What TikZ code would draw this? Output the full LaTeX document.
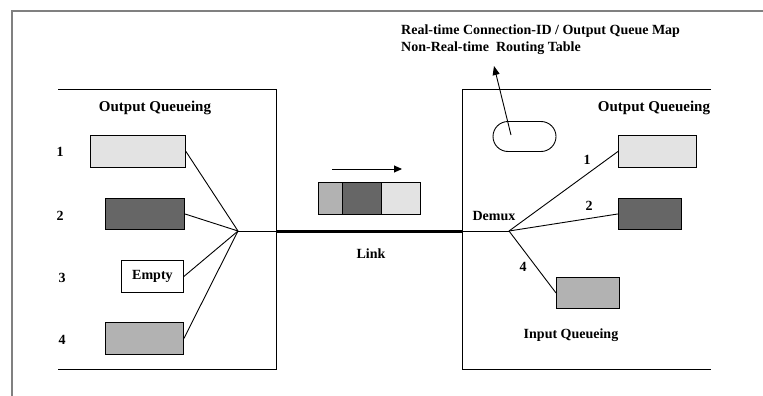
\documentclass[tikz,border=0pt]{standalone}
\usepackage{fontspec}
\setmainfont{Liberation Serif}
\usetikzlibrary{arrows.meta}
\definecolor{qlight}{HTML}{E3E3E3}
\definecolor{qdark}{HTML}{666666}
\definecolor{qmid}{HTML}{B2B2B2}
\definecolor{framegray}{HTML}{808080}
\tikzset{
  queue/.style={draw=black, line width=0.9pt, inner sep=0pt, anchor=north west},
  lbl/.style={font=\bfseries\fontsize{14}{16}\selectfont, inner sep=0pt},
  head/.style={font=\bfseries\fontsize{15}{17}\selectfont, inner sep=0pt},
  wire/.style={line width=0.9pt},
  pcell/.style={draw=black, line width=0.9pt, inner sep=0pt, minimum height=32pt, anchor=north west},
}
\begin{document}
\begin{tikzpicture}[x=1pt,y=-1pt]
\useasboundingbox (0,0) rectangle (763,396);
% outer frame (top and left edges)
\draw[framegray, line width=1.5pt] (12,396) -- (12,11) -- (763,11);

% sender enclosure (open on the left)
\draw[wire] (58,89) -- (276,89) -- (276,369) -- (58,369);
\node[head] (lhead) at (155,108) {Output Queueing};

\node[queue, fill=qlight, minimum width=95pt, minimum height=32pt] (lq1) at (90,135) {};
\node[queue, fill=qdark, minimum width=79pt, minimum height=31pt] (lq2) at (105,198) {};
\node[queue, fill=white, minimum width=62pt, minimum height=32pt] (lq3) at (121,260) {};
\node[lbl] at (lq3.center) {Empty};
\node[queue, fill=qmid, minimum width=78pt, minimum height=32pt] (lq4) at (105,322) {};

\node[lbl] (n1) at (60,152) {1};
\node[lbl] (n2) at (60,216) {2};
\node[lbl] (n3) at (62,278) {3};
\node[lbl] (n4) at (62,340) {4};

\coordinate (mux) at (238,231);
\coordinate (lout) at (276,231);
\draw[wire] (lq1.east) -- (mux);
\draw[wire] (lq2.east) -- (mux);
\draw[wire] (lq3.east) -- (mux);
\draw[wire] (lq4.east) -- (mux);
\draw[wire] (mux) -- (lout);

% link
\coordinate (rin) at (462,231);
\draw[line width=3pt] (lout) -- (rin);
\node[lbl] (link) at (371,254) {Link};

% packet in flight
\node[pcell, fill=qmid, minimum width=24pt] (p1) at (318,182) {};
\node[pcell, fill=qdark, minimum width=39pt] (p2) at (342,182) {};
\node[pcell, fill=qlight, minimum width=39pt] (p3) at (381,182) {};
\coordinate (dirA) at (332,169);
\coordinate (dirB) at (402,169);
\draw[wire, -{Triangle[length=8pt,width=7pt]}] (dirA) -- (dirB);

% receiver enclosure (open on the right)
\draw[wire] (711,89) -- (462,89) -- (462,369) -- (711,369);
\node[head] (rhead) at (654,108) {Output Queueing};

\node[draw=black, line width=0.9pt, rounded corners=15pt, minimum width=63pt, minimum height=30pt, inner sep=0pt] (tbl) at (524.5,136.5) {};
\node[lbl, anchor=west] (t1) at (401,31) {Real-time Connection-ID / Output Queue Map};
\node[lbl, anchor=west] (t2) at (401,48) {Non-Real-time\ \ Routing Table};
\coordinate (tblin) at (511,135);
\coordinate (tblout) at (494,66);
\draw[wire, -{Triangle[length=9pt,width=7pt]}] (tblin) -- (tblout);

\node[queue, fill=qlight, minimum width=78pt, minimum height=32pt] (rq1) at (618,135) {};
\node[queue, fill=qdark, minimum width=63pt, minimum height=31pt] (rq2) at (618,198) {};
\node[queue, fill=qmid, minimum width=63pt, minimum height=31pt] (rq4) at (556,277) {};

\coordinate (demux) at (509,231);
\draw[wire] (rin) -- (demux);
\draw[wire] (demux) -- (rq1.west);
\draw[wire] (demux) -- (rq2.west);
\draw[wire] (demux) -- (rq4.west);
\node[lbl] (dmx) at (494,216) {Demux};
\node[lbl] (r1) at (587,160) {1};
\node[lbl] (r2) at (589,206) {2};
\node[lbl] (r4) at (523,267) {4};
\node[lbl] (inq) at (571,335) {Input Queueing};
\end{tikzpicture}
\end{document}
